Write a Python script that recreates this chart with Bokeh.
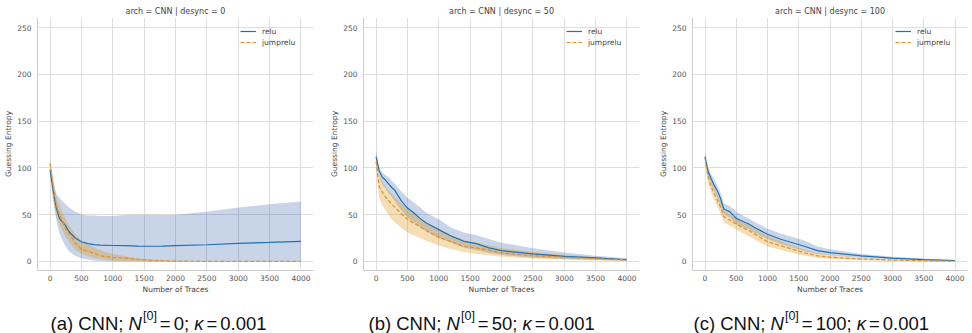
from bokeh.plotting import figure
from bokeh.layouts import row, column
from bokeh.models import Legend, LegendItem, ColumnDataSource, FixedTicker, Range1d, Label
from bokeh.embed import file_html
from bokeh.resources import INLINE

# ---------------- data ----------------
TRACES = [0, 50, 100, 150, 200, 250, 300, 400, 500, 600, 700, 800, 1000,
          1200, 1400, 1600, 1800, 2000, 2500, 3000, 3500, 4000]

DESYNC = [0, 50, 100]
SERIES = ["relu", "jumprelu"]

# desync = 0
relu_mean_0 = [98, 76, 57, 46, 42, 38, 32, 25, 21, 19, 18, 17.5, 17, 16.8, 16.3, 16.2, 16.3, 16.8, 17.8, 19.2, 20.3, 21.5]
relu_hi_0 = [104, 85, 72, 68, 64, 61, 58, 53, 50.5, 49, 49, 48.5, 48.5, 49.5, 50, 50, 49.5, 50, 53, 57.5, 61, 64]
relu_lo_0 = [92, 66, 44, 30, 22, 16, 11, 6, 3.5, 2, 1, 0.5, 0, 0, 0, 0, 0, 0, 0, 0, 0, 0]
jump_mean_0 = [105, 80, 60, 50, 42, 35, 30, 20, 13, 11, 8.5, 6, 4.3, 3.5, 2.3, 1.2, 0.6, 0.3, 0.1, 0, 0, 0]
jump_hi_0 = [110, 90, 70, 60, 52, 45, 39, 29, 22, 18, 15, 12, 8, 5.5, 3.5, 2, 1.2, 0.8, 0.3, 0.1, 0, 0]
jump_lo_0 = [100, 65, 48, 40, 33, 26, 21, 13, 8, 6, 4, 2.5, 1, 0.5, 0.2, 0, 0, 0, 0, 0, 0, 0]

# desync = 50
relu_mean_50 = [112, 97, 90, 87, 83, 79, 76, 65, 57, 52, 46, 41, 34, 27, 21.5, 19, 14.5, 11.5, 8, 5.5, 3.7, 1.8]
relu_hi_50 = [118, 100, 95, 92, 90, 86, 83, 75, 68, 63, 58, 52, 45, 36, 31, 28, 24, 20, 14, 9.5, 6, 3.5]
relu_lo_50 = [105, 90, 82, 78, 73, 69, 64, 55, 47, 42, 37, 32, 25, 20, 15, 12, 9, 7, 4, 2.5, 1.5, 0.7]
jump_mean_50 = [107, 80, 74, 69, 65, 61, 58, 51, 45, 41, 37, 33, 26, 21, 16, 14.5, 12, 9, 6, 4.5, 3, 1.5]
jump_hi_50 = [113, 90, 86, 80, 76, 72, 69, 62, 56, 51, 47, 42, 35, 28, 23, 20, 17, 14, 10, 7, 4.5, 2.5]
jump_lo_50 = [100, 68, 60, 55, 50, 45, 42, 36, 31, 28, 25, 22, 17, 13, 10, 8, 6.5, 5, 3, 2, 1.2, 0.5]

# desync = 100
relu_mean_100 = [112, 96, 88, 81, 75, 67, 56, 53, 46, 43, 40, 36, 29, 24, 20, 16, 11.5, 9.5, 6, 3.5, 2, 1]
relu_hi_100 = [117, 100, 93, 87, 81, 73, 62, 59, 53, 49, 46, 42, 35, 30, 26, 22, 16, 13, 8, 5, 3, 1.5]
relu_lo_100 = [107, 91, 83, 75, 68, 60, 51, 47, 40, 37, 34, 30, 24, 19, 15, 11, 8, 6.5, 4, 2.3, 1.2, 0.5]
jump_mean_100 = [110, 90, 80, 72, 65, 58, 48, 44, 40, 36, 33, 29, 21, 17, 13, 9, 6, 4.5, 2.5, 1.5, 0.7, 0.3]
jump_hi_100 = [114, 95, 86, 78, 71, 64, 55, 50, 46, 42, 39, 35, 27, 22, 17, 12.5, 9, 7, 4, 2.5, 1.3, 0.6]
jump_lo_100 = [106, 84, 73, 65, 58, 51, 42, 38, 34, 30, 27, 23, 16, 12.5, 9, 6, 4, 2.5, 1.2, 0.6, 0.2, 0]

PANELS = [
    (relu_mean_0, relu_lo_0, relu_hi_0, jump_mean_0, jump_lo_0, jump_hi_0),
    (relu_mean_50, relu_lo_50, relu_hi_50, jump_mean_50, jump_lo_50, jump_hi_50),
    (relu_mean_100, relu_lo_100, relu_hi_100, jump_mean_100, jump_lo_100, jump_hi_100),
]

X_TICKS = [0, 500, 1000, 1500, 2000, 2500, 3000, 3500, 4000]
Y_TICKS = [0, 50, 100, 150, 200, 250]

CAP_LETTERS = ["(a)", "(b)", "(c)"]
CAP_N0 = ["0", "50", "100"]
KAPPA = "0.001"

# ---------------- style ----------------
BLUE = "#1f72b8"
ORANGE = "#e0902a"
BLUE_BAND = "#2455a5"
ORANGE_BAND = "#de8f05"
FONT = "DejaVu Sans"
GRID = "#dedede"
TXT = "#555555"

WIDTHS = [324, 325, 323]
LEFTS = [37, 39, 43]
RIGHTS = [11, 10, 5]
PH = 298

figs = []
for i, d in enumerate(DESYNC):
    rm, rl, rh, jm, jl, jh = PANELS[i]
    src = ColumnDataSource(dict(x=TRACES, rm=rm, rl=rl, rh=rh, jm=jm, jl=jl, jh=jh))
    p = figure(width=WIDTHS[i], height=PH, x_range=Range1d(-200, 4200),
               y_range=Range1d(-9.7, 260.7), output_backend="svg",
               toolbar_location=None, min_border_left=LEFTS[i],
               min_border_right=RIGHTS[i], min_border_top=17, min_border_bottom=28)
    p.title.text = f"arch = CNN | desync = {d}"
    p.title.align = "center"
    p.title.text_font = FONT
    p.title.text_font_size = "8px"
    p.title.text_font_style = "normal"
    p.title.text_color = "#444444"
    p.title.offset = 0
    p.title.standoff = 3
    p.outline_line_color = None
    p.background_fill_color = "white"
    p.border_fill_color = "white"

    p.varea(x="x", y1="rl", y2="rh", source=src, fill_color=BLUE_BAND, fill_alpha=0.25)
    p.varea(x="x", y1="jl", y2="jh", source=src, fill_color=ORANGE_BAND, fill_alpha=0.3)
    l1 = p.line(x="x", y="rm", source=src, line_color=BLUE, line_width=1.2)
    l2 = p.line(x="x", y="jm", source=src, line_color=ORANGE, line_width=1.2,
                line_dash="4 2")

    p.xaxis.ticker = FixedTicker(ticks=X_TICKS)
    p.yaxis.ticker = FixedTicker(ticks=Y_TICKS)
    for ax in (p.xaxis[0], p.yaxis[0]):
        ax.major_tick_line_color = None
        ax.minor_tick_line_color = None
        ax.major_tick_in = 0
        ax.major_tick_out = 0
        ax.axis_line_color = "#cccccc"
        ax.axis_line_width = 1
        ax.major_label_text_font = FONT
        ax.major_label_text_font_size = "7.5px"
        ax.major_label_text_color = TXT
        ax.axis_label_text_font = FONT
        ax.axis_label_text_font_size = "7.5px"
        ax.axis_label_text_font_style = "normal"
        ax.axis_label_text_color = "#444444"
    p.xaxis.axis_label = "Number of Traces"
    p.yaxis.axis_label = "Guessing Entropy"
    p.xaxis.major_label_standoff = 4
    p.xaxis.axis_label_standoff = 1
    p.yaxis.major_label_standoff = 6
    p.yaxis.axis_label_standoff = 1
    p.grid.grid_line_color = GRID
    p.grid.grid_line_width = 1

    leg = Legend(items=[LegendItem(label=SERIES[0], renderers=[l1]),
                        LegendItem(label=SERIES[1], renderers=[l2])],
                 location=(203, 223))
    leg.border_line_color = None
    leg.background_fill_alpha = 0
    leg.label_text_font = FONT
    leg.label_text_font_size = "7.5px"
    leg.label_text_color = "#444444"
    leg.glyph_width = 16
    leg.glyph_height = 10
    leg.label_height = 10
    leg.label_standoff = 6
    leg.spacing = 1
    leg.padding = 0
    leg.margin = 0
    p.add_layout(leg)
    figs.append(p)

# ---------------- captions ----------------
CH = 35
cap = figure(width=972, height=CH, x_range=Range1d(0, 972), y_range=Range1d(0, CH),
             output_backend="svg", toolbar_location=None, x_axis_type=None,
             y_axis_type=None, min_border=0, title=None)
cap.grid.visible = False
cap.outline_line_color = None

ADV = {'(': 333, ')': 333, 'a': 556, 'b': 556, 'c': 500, ' ': 278, 'C': 722,
       'N': 722, ';': 278, '=': 584, '0': 556, '1': 556, '5': 556, '.': 278,
       '[': 278, ']': 278, 'κ': 500}


def wid(s, size):
    return sum(ADV.get(ch, 556) for ch in s) * size / 1000.0


FS = 18.5
SS = 12.5
GAP = 3.0
CAP_STARTS = [50, 368, 693]
BASE = 10


def put(x, y, t, size, style="normal"):
    cap.add_layout(Label(x=x, y=y, text=t, text_font="Liberation Sans",
                         text_font_size=f"{size}px", text_font_style=style,
                         text_color="#111111", text_baseline="alphabetic",
                         text_align="left"))


for i in range(3):
    x = CAP_STARTS[i]
    pre = f"{CAP_LETTERS[i]} CNN; "
    put(x, BASE, pre, FS)
    x += wid(pre, FS)
    put(x, BASE, "N", FS, "italic")
    x += wid("N", FS) + 1
    put(x, BASE + 7.5, "[0]", SS)
    x += wid("[0]", SS) + GAP
    put(x, BASE, "=", FS)
    x += wid("=", FS) + GAP
    s = f"{CAP_N0[i]}; "
    put(x, BASE, s, FS)
    x += wid(s, FS)
    put(x, BASE, "κ", FS, "italic")
    x += wid("κ", FS) + GAP
    put(x, BASE, "=", FS)
    x += wid("=", FS) + GAP
    put(x, BASE, KAPPA, FS)

layout = column(row(*figs, spacing=0), cap, spacing=0)
open("out.html", "w").write(file_html(layout, INLINE))
